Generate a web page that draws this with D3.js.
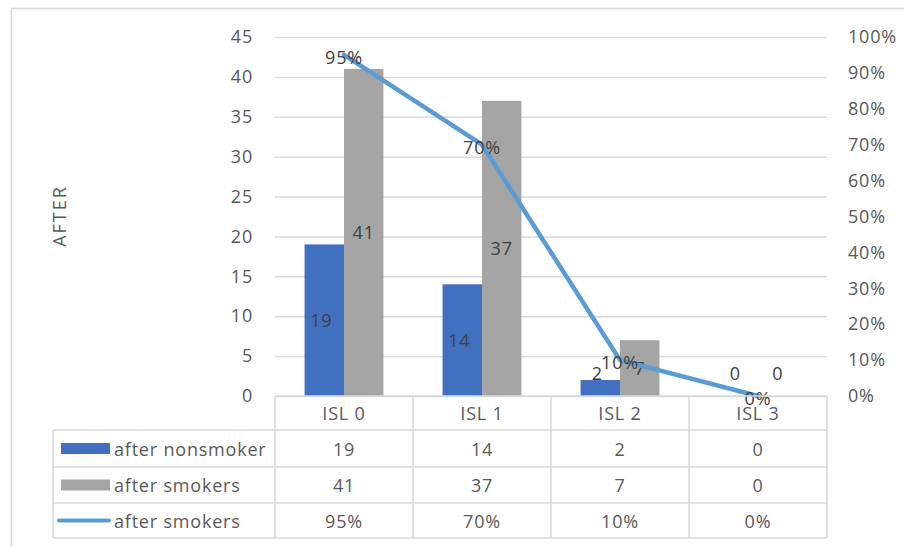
<!DOCTYPE html>
<html>
<head>
<meta charset="utf-8">
<script src="https://cdn.jsdelivr.net/npm/d3@7"></script>
<style>
  html, body { margin: 0; padding: 0; background: #fff; }
  svg { display: block; }
  text { font-family: "Open Sans", Lato, sans-serif; font-size: 18px; letter-spacing: 0.8px; }
</style>
</head>
<body>
<svg id="chart" width="904" height="547"></svg>
<script>
// Categories and series
const categories = ["ISL 0", "ISL 1", "ISL 2", "ISL 3"];
const nonsmokers = [19, 14, 2, 0];
const smokers = [41, 37, 7, 0];
const smokerShare = [0.95, 0.70, 0.10, 0.00];
const seriesNames = ["after nonsmoker", "after smokers", "after smokers"];
const leftTicks = [0, 5, 10, 15, 20, 25, 30, 35, 40, 45];
const rightTicks = [0, 0.1, 0.2, 0.3, 0.4, 0.5, 0.6, 0.7, 0.8, 0.9, 1.0];

const colors = { blue: "#4170C0", gray: "#A5A5A5", line: "#5B9BD5", grid: "#D9D9D9", tick: "#595959", label: "#404040" };

const svg = d3.select("#chart");
const plot = { left: 275, right: 827, top: 37, bottom: 396 };

// Outer chart frame
svg.append("rect")
  .attr("x", 11.5).attr("y", 8.5).attr("width", 900).attr("height", 540)
  .attr("fill", "none").attr("stroke", colors.grid).attr("stroke-width", 1.5);

const x = d3.scaleBand().domain(categories).range([plot.left, plot.right]).paddingInner(0).paddingOuter(0);
const bandW = x.bandwidth();
const x1 = d3.scaleBand().domain(["non", "smk"]).range([0, bandW]).paddingOuter(0.75).paddingInner(0);
const y = d3.scaleLinear().domain([0, 45]).range([plot.bottom, plot.top]);
const y2 = d3.scaleLinear().domain([0, 1]).range([plot.bottom, plot.top]);

// Gridlines
const grid = svg.append("g").attr("transform", `translate(${plot.left},0)`)
  .call(d3.axisLeft(y).tickValues(leftTicks).tickSize(-(plot.right - plot.left)).tickFormat(""));
grid.select(".domain").remove();
grid.selectAll("line").attr("stroke", colors.grid).attr("stroke-width", 1.5);

// Left axis
const yl = svg.append("g").attr("transform", `translate(${plot.left},0)`)
  .call(d3.axisLeft(y).tickValues(leftTicks).tickSize(0).tickPadding(22));
yl.select(".domain").remove();
yl.selectAll("text").attr("fill", colors.tick).attr("font-size", null).attr("font-family", null);

// Right axis
const yr = svg.append("g").attr("transform", `translate(${plot.right},0)`)
  .call(d3.axisRight(y2).tickValues(rightTicks).tickSize(0).tickPadding(21).tickFormat(d3.format(".0%")));
yr.select(".domain").remove();
yr.selectAll("text").attr("fill", colors.tick);
yl.attr("font-size", null).attr("font-family", null);
yr.attr("font-size", null).attr("font-family", null);

// Axis title
svg.append("text")
  .attr("transform", "translate(59,216) rotate(-90)")
  .attr("text-anchor", "middle").attr("dominant-baseline", "central")
  .attr("fill", colors.tick).style("letter-spacing", "2px").text("AFTER");

// Bars
const groups = svg.append("g").selectAll("g").data(categories).join("g")
  .attr("transform", d => `translate(${x(d)},0)`);

groups.append("rect")
  .attr("x", x1("non")).attr("width", x1.bandwidth())
  .attr("y", (d, i) => y(nonsmokers[i])).attr("height", (d, i) => y(0) - y(nonsmokers[i]))
  .attr("fill", colors.blue);
groups.append("rect")
  .attr("x", x1("smk")).attr("width", x1.bandwidth())
  .attr("y", (d, i) => y(smokers[i])).attr("height", (d, i) => y(0) - y(smokers[i]))
  .attr("fill", colors.gray);

// Bar value labels, centred in the bar but kept clear of the baseline
const labelY = v => Math.min((y(v) + y(0)) / 2, y(0) - 23);
groups.append("text")
  .attr("x", x1("non") + x1.bandwidth() / 2 - 3).attr("y", (d, i) => labelY(nonsmokers[i]))
  .attr("text-anchor", "middle").attr("dominant-baseline", "central")
  .attr("fill", colors.label).text((d, i) => nonsmokers[i]);
groups.append("text")
  .attr("x", x1("smk") + x1.bandwidth() / 2).attr("y", (d, i) => labelY(smokers[i]))
  .attr("text-anchor", "middle").attr("dominant-baseline", "central")
  .attr("fill", colors.label).text((d, i) => smokers[i]);

// Share line
const cx = d => x(d) + bandW / 2;
const line = d3.line().x((d, i) => cx(categories[i])).y(d => y2(d));
svg.append("path").datum(smokerShare)
  .attr("d", line).attr("fill", "none").attr("stroke", colors.line)
  .attr("stroke-width", 4.5).attr("stroke-linejoin", "round").attr("stroke-linecap", "round");

svg.append("g").selectAll("text").data(smokerShare).join("text")
  .attr("x", (d, i) => cx(categories[i]))
  .attr("y", d => y2(d) + 2)
  .attr("text-anchor", "middle").attr("dominant-baseline", "central")
  .attr("fill", colors.label)
  .text(d3.format(".0%"));

// Data table
const table = svg.append("g");
const rowTop = [396, 430, 467, 503, 538];
const tableLeft = 53;
function hline(x0, x1_, yy) {
  table.append("line").attr("x1", x0).attr("x2", x1_).attr("y1", yy).attr("y2", yy)
    .attr("stroke", colors.grid).attr("stroke-width", 1.5);
}
function vline(xx, y0, y1_) {
  table.append("line").attr("x1", xx).attr("x2", xx).attr("y1", y0).attr("y2", y1_)
    .attr("stroke", colors.grid).attr("stroke-width", 1.5);
}
hline(plot.left, plot.right, rowTop[0]);
for (let r = 1; r < rowTop.length; r++) hline(tableLeft, plot.right, rowTop[r]);
vline(tableLeft, rowTop[1], rowTop[4]);
categories.forEach(c => vline(x(c), rowTop[0], rowTop[4]));
vline(plot.right, rowTop[0], rowTop[4]);

// Header row
table.selectAll(".hdr").data(categories).join("text")
  .attr("x", d => cx(d)).attr("y", (rowTop[0] + rowTop[1]) / 2)
  .attr("text-anchor", "middle").attr("dominant-baseline", "central")
  .attr("fill", colors.tick).text(d => d);

const rows = [
  nonsmokers.map(String),
  smokers.map(String),
  smokerShare.map(d3.format(".0%"))
];
rows.forEach((vals, r) => {
  const yc = (rowTop[r + 1] + rowTop[r + 2]) / 2;
  categories.forEach((c, i) => {
    table.append("text").attr("x", cx(c)).attr("y", yc)
      .attr("text-anchor", "middle").attr("dominant-baseline", "central")
      .attr("fill", colors.tick).text(vals[i]);
  });
  // legend key
  if (r === 0) table.append("rect").attr("x", 61).attr("y", yc - 5.5).attr("width", 49).attr("height", 11).attr("fill", colors.blue);
  if (r === 1) table.append("rect").attr("x", 61).attr("y", yc - 5.5).attr("width", 49).attr("height", 11).attr("fill", colors.gray);
  if (r === 2) table.append("line").attr("x1", 59).attr("x2", 109).attr("y1", yc).attr("y2", yc)
    .attr("stroke", colors.line).attr("stroke-width", 4).attr("stroke-linecap", "round");
  table.append("text").attr("x", 114).attr("y", yc)
    .attr("dominant-baseline", "central")
    .attr("fill", colors.tick).text(seriesNames[r]);
});
</script>
</body>
</html>
